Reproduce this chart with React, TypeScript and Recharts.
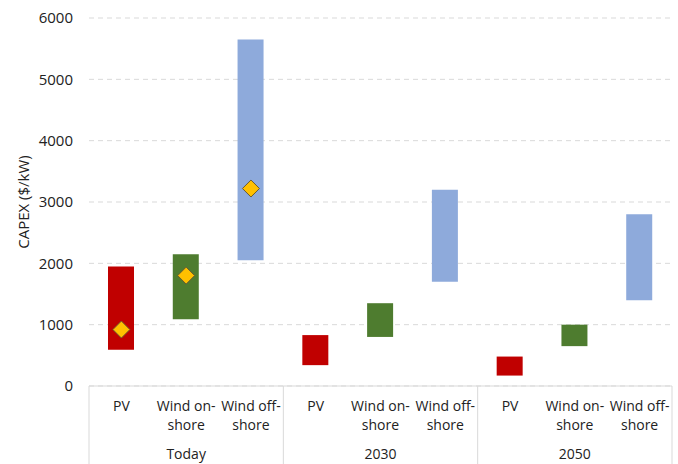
import React from 'react';
import { ComposedChart, Bar, Scatter, XAxis, YAxis, CartesianGrid, Cell } from 'recharts';

// CAPEX ranges ($/kW)
const periods = ['Today', '2030', '2050'];
const techs = ['PV', 'Wind on-\nshore', 'Wind off-\nshore'];
const lowValues = [590, 1090, 2050, 340, 800, 1700, 170, 650, 1400];
const highValues = [1950, 2150, 5650, 830, 1350, 3200, 480, 1000, 2800];
const todayMarkers = [920, 1800, 3220];
const techColors = ['#C00000', '#4E7C2F', '#8EAADB'];
const yTicks = [0, 1000, 2000, 3000, 4000, 5000, 6000];

const WIDTH = 678;
const HEIGHT = 464;
const MARGIN = { top: 18, right: 6, bottom: 0, left: 0 };
const Y_AXIS_WIDTH = 89;
const X_AXIS_HEIGHT = 78;
const BAND = (WIDTH - MARGIN.left - MARGIN.right - Y_AXIS_WIDTH) / lowValues.length;
const FONT = '"Open Sans", sans-serif';
const TEXT = '#222222';
const LINE = '#D9D9D9';

const data = lowValues.map((low, i) => ({
  name: `${periods[Math.floor(i / 3)]}-${i % 3}`,
  tech: techs[i % 3],
  period: periods[Math.floor(i / 3)],
  range: [low, highValues[i]],
  marker: i < 3 ? todayMarkers[i] : null,
  color: techColors[i % 3],
}));

const CategoryTick = (props: any) => {
  const { x, y, index } = props;
  const row = data[index];
  if (!row) return null;
  const lines = row.tech.split('\n');
  return (
    <g>
      {lines.map((t: string, k: number) => (
        <text key={k} x={x} y={y + 25 + k * 19} textAnchor="middle" fill={TEXT} fontSize={14} fontFamily={FONT}>
          {t}
        </text>
      ))}
      {index % 3 === 1 && (
        <text x={x} y={y + 73} textAnchor="middle" fill={TEXT} fontSize={14} fontFamily={FONT}>
          {row.period}
        </text>
      )}
      {index % 3 === 0 && (
        <line x1={x - BAND / 2} x2={x - BAND / 2} y1={y} y2={y + X_AXIS_HEIGHT} stroke={LINE} strokeWidth={1} />
      )}
      {index === data.length - 1 && (
        <line x1={x + BAND / 2} x2={x + BAND / 2} y1={y} y2={y + X_AXIS_HEIGHT} stroke={LINE} strokeWidth={1} />
      )}
    </g>
  );
};

const Diamond = (props: any) => {
  const { cx, cy, payload } = props;
  if (payload == null || payload.marker == null || cx == null || cy == null) return null;
  const r = 8.5;
  return (
    <polygon
      points={`${cx},${cy - r} ${cx + r},${cy} ${cx},${cy + r} ${cx - r},${cy}`}
      fill="#FFC000"
      stroke="#6B5B2E"
      strokeWidth={1}
    />
  );
};

export default function App() {
  return (
    <div style={{ position: 'absolute', left: 0, top: 0, width: WIDTH, height: HEIGHT, background: '#fff' }}>
      <ComposedChart width={WIDTH} height={HEIGHT} data={data} margin={MARGIN}>
        <CartesianGrid vertical={false} stroke={LINE} strokeDasharray="5 4" />
        <XAxis
          dataKey="name"
          type="category"
          height={X_AXIS_HEIGHT}
          axisLine={{ stroke: LINE }}
          tickLine={false}
          tickSize={0}
          tickMargin={0}
          interval={0}
          tick={<CategoryTick />}
        />
        <YAxis
          type="number"
          domain={[0, 6000]}
          ticks={yTicks}
          width={Y_AXIS_WIDTH}
          axisLine={false}
          tickLine={false}
          tickSize={0}
          tickMargin={16}
          tick={{ fill: TEXT, fontSize: 15, fontFamily: FONT }}
          label={{
            value: 'CAPEX ($/kW)',
            angle: -90,
            position: 'insideLeft',
            offset: 24,
            style: { textAnchor: 'middle', fill: TEXT, fontSize: 15, fontFamily: FONT },
          }}
        />
        <Bar dataKey="range" barSize={26} isAnimationActive={false}>
          {data.map((entry, index) => (
            <Cell key={`cell-${index}`} fill={entry.color} />
          ))}
        </Bar>
        <Scatter dataKey="marker" shape={<Diamond />} isAnimationActive={false} />
      </ComposedChart>
    </div>
  );
}
